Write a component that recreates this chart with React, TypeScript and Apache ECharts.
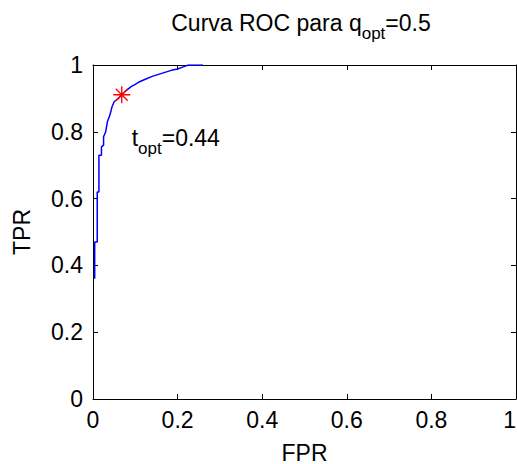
import React, { useEffect, useRef } from "react";
import * as echarts from "echarts";

const fpr = [0.004, 0.004, 0.01, 0.01, 0.014, 0.014, 0.02, 0.02, 0.025, 0.025, 0.03, 0.034, 0.04, 0.045, 0.05, 0.06, 0.068, 0.08, 0.09, 0.1, 0.11, 0.125, 0.14, 0.155, 0.17, 0.185, 0.2, 0.215, 0.225, 0.26];
const tpr = [0.36, 0.47, 0.47, 0.62, 0.62, 0.73, 0.73, 0.755, 0.76, 0.785, 0.8, 0.83, 0.85, 0.875, 0.89, 0.9, 0.911, 0.925, 0.935, 0.942, 0.95, 0.958, 0.966, 0.972, 0.978, 0.984, 0.988, 0.995, 1.0, 1.0];
const optPoint = [0.068, 0.911];
const annotPoint = [0.0915, 0.78];
const tOpt = "0.44";
const qOpt = "0.5";
const xTicks = [0, 0.2, 0.4, 0.6, 0.8, 1];
const yTicks = [0, 0.2, 0.4, 0.6, 0.8, 1];

const FONT = "Liberation Sans, Arial, sans-serif";
const FS = 23;
const STAR =
  "path://M-0.8,-10h1.6v20h-1.6z M-10,-0.8h20v1.6h-20z M-7.6,-6.5L-6.5,-7.6L7.6,6.5L6.5,7.6z M6.5,-7.6L7.6,-6.5L-6.5,7.6L-7.6,6.5z";

export default function App() {
  const ref = useRef<HTMLDivElement>(null);
  useEffect(() => {
    const chart = echarts.init(ref.current!, null, { renderer: "svg" });
    const axisCommon = {
      type: "value" as const,
      min: 0,
      max: 1,
      interval: 0.2,
      axisLine: { show: true, onZero: false, lineStyle: { color: "#000", width: 1 } },
      axisTick: { show: true, inside: true, length: 5, lineStyle: { color: "#000" } },
      splitLine: { show: false },
    };
    chart.setOption({
      animation: false,
      backgroundColor: "#fff",
      textStyle: { fontFamily: FONT },
      grid: { left: 93, top: 65, width: 423, height: 334, outerBoundsMode: "none", containLabel: false },
      graphic: [
        {
          type: "text",
          x: 301,
          y: 11,
          style: {
            text: `{m|Curva ROC para q}{s|opt}{m|=${qOpt}}`,
            textAlign: "center",
            textVerticalAlign: "top",
            fill: "#000",
            rich: {
              m: { fontSize: FS, lineHeight: 24, verticalAlign: "top", fontFamily: FONT, fill: "#000" },
              s: { fontSize: 17, lineHeight: 17, padding: [14, 0, 0, 0], verticalAlign: "top", fontFamily: FONT, fill: "#000" },
            },
          },
        },
      ],
      xAxis: [
        {
          ...axisCommon,
          position: "bottom",
          name: "FPR",
          nameLocation: "middle",
          nameGap: 42,
          nameTextStyle: { fontSize: FS, color: "#000", fontFamily: FONT },
          axisLabel: {
            margin: 9,
            fontSize: FS,
            color: "#000",
            fontFamily: FONT,
            customValues: xTicks,
            alignMaxLabel: "right",
            formatter: (v: number) => String(v),
          },
        },
        {
          ...axisCommon,
          position: "top",
          axisLabel: { show: false },
        },
      ],
      yAxis: [
        {
          ...axisCommon,
          position: "left",
          name: "TPR",
          nameLocation: "middle",
          nameGap: 60,
          nameTextStyle: { fontSize: FS, color: "#000", fontFamily: FONT },
          axisLabel: {
            margin: 10,
            fontSize: FS,
            color: "#000",
            fontFamily: FONT,
            customValues: yTicks,
            formatter: (v: number) => String(v),
          },
        },
        {
          ...axisCommon,
          position: "right",
          axisLabel: { show: false },
        },
      ],
      series: [
        {
          type: "line",
          data: fpr.map((x, i) => [x, tpr[i]]),
          showSymbol: false,
          symbol: "none",
          lineStyle: { color: "#0000ff", width: 1.5 },
          z: 2,
        },
        {
          type: "scatter",
          data: [optPoint],
          symbol: STAR,
          symbolSize: 17,
          itemStyle: { color: "#ff0000", opacity: 1 },
          z: 3,
        },
        {
          type: "scatter",
          data: [annotPoint],
          symbolSize: 0,
          silent: true,
          itemStyle: { opacity: 1 },
          label: {
            show: true,
            position: "right",
            distance: 0,
            color: "#000",
            formatter: `{m|t}{s|opt}{m|=${tOpt}}`,
            rich: {
              m: { fontSize: FS, lineHeight: 24, verticalAlign: "top", color: "#000", fontFamily: FONT },
              s: { fontSize: 17, lineHeight: 17, padding: [14, 0, 0, 0], verticalAlign: "top", color: "#000", fontFamily: FONT },
            },
          },
        },
      ],
    });
    return () => chart.dispose();
  }, []);
  return (
    <div
      ref={ref}
      style={{ position: "fixed", left: 0, top: 0, width: 517, height: 464, background: "#fff" }}
    />
  );
}
